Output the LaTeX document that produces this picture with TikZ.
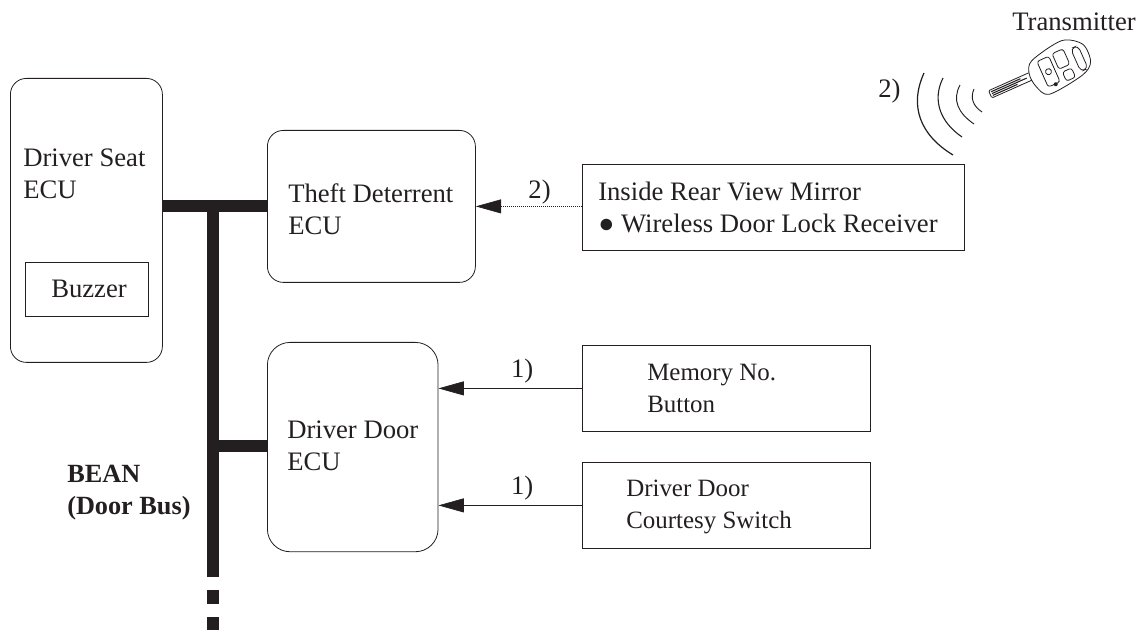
\documentclass[tikz,border=0pt]{standalone}
\usepackage{fontspec}
\setmainfont{Liberation Serif}
\usetikzlibrary{arrows.meta}
\definecolor{ink}{HTML}{231F20}
\tikzset{
  ecubox/.style={draw=ink,rounded corners=12pt,line width=0.6pt,minimum width=#1,anchor=north west,inner sep=0pt},
  rectbox/.style={draw=ink,line width=0.6pt,anchor=north west,inner sep=0pt},
  boxtext/.style={anchor=west,align=left,inner sep=0pt,text=ink},
  bus/.style={line width=9pt,color=ink},
  signal/.style={-{Stealth[length=19pt,width=10.5pt,inset=0pt]},line width=0.5pt,color=ink},
  keyline/.style={line width=0.6pt,draw=ink}
}
\begin{document}
\begin{tikzpicture}[x=0.75pt,y=-0.75pt,font=\fontsize{20}{24}\selectfont,text=ink]
  \useasboundingbox (0,0) rectangle (1145,630);
  \node (seat) [ecubox=114pt,minimum height=213pt] at (10,78) {};
  \node (theft) [ecubox=156pt,minimum height=114pt] at (267,130) {};
  \node (door) [ecubox=128pt,minimum height=157pt,rounded corners=17pt] at (267,342) {};
  \node (buzzer) [rectbox,minimum width=92pt,minimum height=40.5pt] at (25,262) {};
  \node (mirror) [rectbox,minimum width=286.5pt,minimum height=64.5pt] at (582,164) {};
  \node (memory) [rectbox,minimum width=216pt,minimum height=64.5pt] at (582,345) {};
  \node (courtesy) [rectbox,minimum width=216pt,minimum height=64.5pt] at (582,462) {};
  \node (seattext) [boxtext] at (23,173.5) {Driver Seat\\ECU};
  \node (buzzertext) [boxtext] at (51,288.5) {Buzzer};
  \node (thefttext) [boxtext] at (288,209.5) {Theft Deterrent\\ECU};
  \node (doortext) [boxtext] at (287,446) {Driver Door\\ECU};
  \node (mirrortext) [boxtext] at (598,207) {Inside Rear View Mirror\\● Wireless Door Lock Receiver};
  \node (memorytext) [boxtext,font=\fontsize{18.7}{24}\selectfont] at (647,388) {Memory No.\\Button};
  \node (courtesytext) [boxtext,font=\fontsize{18.7}{24}\selectfont] at (626,507) {Driver Door\\Courtesy Switch};
  \node (beantext) [boxtext,font=\fontsize{19.7}{24}\selectfont\bfseries] at (67,493) {BEAN\\(Door Bus)};
  \node (transtext) [anchor=west,inner sep=0pt] at (1012,22) {Transmitter};
  \node (wavelabel) [anchor=west,inner sep=0pt] at (878,91) {2)};
  \coordinate (bustop) at (213,200);
  \coordinate (busend) at (213,577);
  \coordinate (busdots) at (213,590);
  \coordinate (busfoot) at (213,630);
  \draw[bus] (seat.east |- 0,206) -- (theft.west |- 0,206);
  \draw[bus] (bustop) -- (busend);
  \draw[bus,dash pattern=on 10.5pt off 9.75pt] (busdots) -- (busfoot);
  \draw[bus] (213,446) -- (door.west |- 0,446);
  \path[signal]
    (mirror.west |- theft) edge [densely dotted] node [above=-2pt,xshift=8pt] {2)} (theft.east)
    (memory.west) edge node [above=0pt,xshift=9pt] {1)} (door.east |- memory.west)
    (courtesy.west) edge node [above=0pt,xshift=9pt] {1)} (door.east |- courtesy.west);
  \draw[ink,line width=0.9pt] (924,73) .. controls (909,106) and (920,135) .. (953,155);
  \draw[ink,line width=0.8pt] (943,78) .. controls (932,100) and (940,122) .. (962,137);
  \draw[ink,line width=0.7pt] (960,85) .. controls (952,100) and (958,113) .. (974,124);
  \draw[ink,line width=0.7pt] (974,89) .. controls (970,98) and (973,106) .. (982,112);
  \begin{scope}[shift={(1059,67)},rotate=24,keyline]
    \draw plot[smooth cycle] coordinates {(-30,-6) (-22,-17) (13,-23) (31,-11) (31,8) (18,17) (-20,21) (-29,8)};
    \draw[rounded corners=1pt] (-30,-7) -- (-74,-7) -- (-74,1) -- (-30,1);
    \draw[line width=0.8pt] (-72,-5) -- (-40,-5) (-72,-3) -- (-34,-3) (-72,-1) -- (-45,-1);
    \draw[rounded corners=3.5pt] (18,-12) rectangle (26,13);
    \draw[rounded corners=2pt] (-1,-15) rectangle (11,2);
    \draw[rounded corners=2pt] (1,6) rectangle (11,16);
    \draw[rounded corners=2pt] (-18,-14) rectangle (-5,14);
    \draw (-11.5,0) circle (3);
    \fill[ink] (-10,14.5) circle (2);
  \end{scope}
\end{tikzpicture}
\end{document}
